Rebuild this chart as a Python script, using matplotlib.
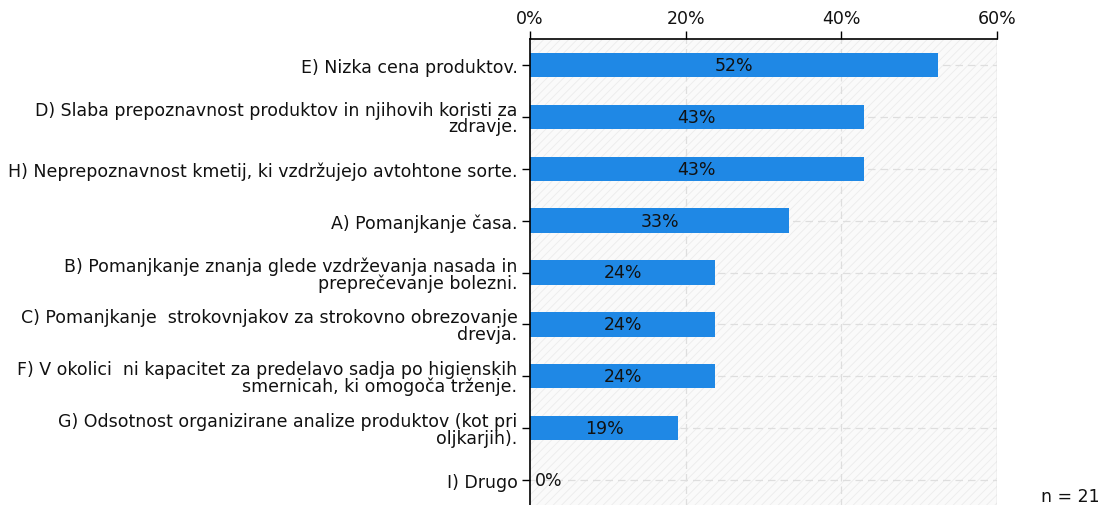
import matplotlib
matplotlib.use("Agg")
import matplotlib.pyplot as plt
from matplotlib.patches import Rectangle

categories = [
    "E) Nizka cena produktov.",
    "D) Slaba prepoznavnost produktov in njihovih koristi za\nzdravje.",
    "H) Neprepoznavnost kmetij, ki vzdržujejo avtohtone sorte.",
    "A) Pomanjkanje časa.",
    "B) Pomanjkanje znanja glede vzdrževanja nasada in\npreprečevanje bolezni.",
    "C) Pomanjkanje  strokovnjakov za strokovno obrezovanje\ndrevja.",
    "F) V okolici  ni kapacitet za predelavo sadja po higienskih\nsmernicah, ki omogoča trženje.",
    "G) Odsotnost organizirane analize produktov (kot pri\noljkarjih).",
    "I) Drugo",
]
values = [52.38, 42.86, 42.86, 33.33, 23.81, 23.81, 23.81, 19.05, 0.0]
value_labels = ["52%", "43%", "43%", "33%", "24%", "24%", "24%", "19%", "0%"]
xticks = [0, 20, 40, 60]
xtick_labels = ["0%", "20%", "40%", "60%"]
n_label = "n = 21"

FS = 12.5
plt.rcParams['font.family'] = ['DejaVu Sans']
plt.rcParams['hatch.linewidth'] = 0.6
plt.rcParams['hatch.color'] = '#ececec'

fig = plt.figure(figsize=(11.05, 5.06), dpi=100)
ax = fig.add_axes([530/1105, 1 - 507/506, (997-530)/1105, (507-40)/506])

ax.set_xlim(0, 60)
ax.set_ylim(len(categories) - 0.5, -0.5)

# hatched background
bg = Rectangle((0, 0), 1, 1, transform=ax.transAxes, facecolor='#fafafa',
               edgecolor='#ececec', hatch='////', linewidth=0, zorder=0)
ax.add_patch(bg)
ax.set_facecolor('white')

ypos = list(range(len(categories)))
# grid
for x in xticks[1:-1]:
    ax.axvline(x, color='#dedede', linestyle=(0, (6, 4)), linewidth=0.9, zorder=1)
ax.axvline(60, color='#cfcfcf', linewidth=1.0, zorder=1)
for y in ypos:
    ax.axhline(y, color='#dedede', linestyle=(0, (6, 4)), linewidth=0.9, zorder=1)

ax.barh(ypos, values, height=0.47, color='#1f88e5', zorder=2)

for y, v, lab in zip(ypos, values, value_labels):
    if v > 0:
        ax.text(v / 2, y, lab, ha='center', va='center', fontsize=FS, color='#111111', zorder=3)
    else:
        ax.text(0.6, y, lab, ha='left', va='center', fontsize=FS, color='#111111', zorder=3)

ax.set_yticks(ypos)
ax.set_yticklabels(categories, fontsize=FS, linespacing=0.9, color='#111111')
ax.set_xticks(xticks)
ax.set_xticklabels(xtick_labels, fontsize=FS, color='#111111')
ax.xaxis.tick_top()
ax.tick_params(axis='x', direction='out', length=6, width=1, pad=3)
ax.tick_params(axis='y', direction='out', length=6, width=1, pad=3)

for s in ['right', 'bottom']:
    ax.spines[s].set_visible(False)
ax.spines['left'].set_linewidth(1.2)
ax.spines['top'].set_linewidth(1.2)

fig.text(1100/1105, 1 - 497/506, n_label, ha='right', va='center', fontsize=FS, color='#111111')

fig.savefig("out.png", dpi=100)
